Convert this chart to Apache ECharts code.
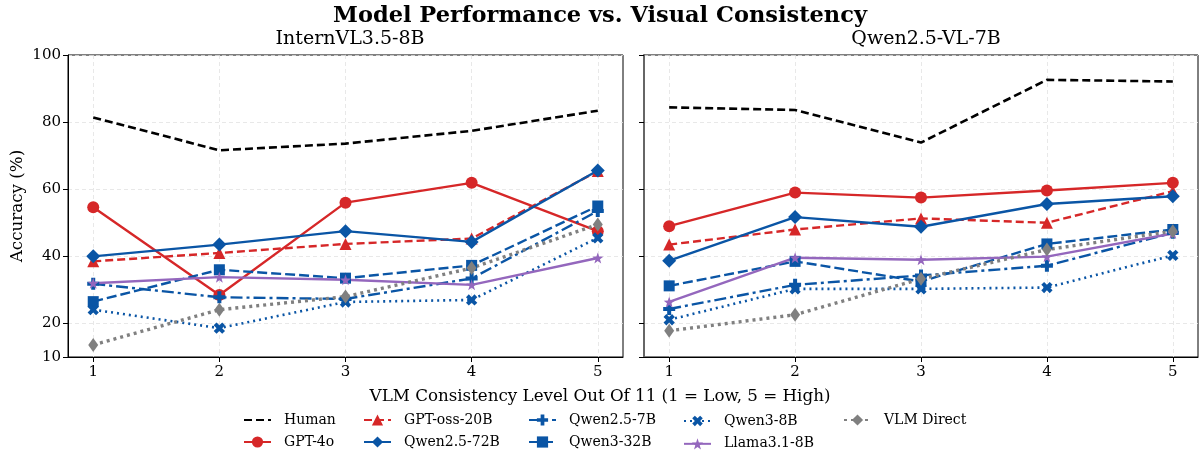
<!DOCTYPE html>
<html>
<head>
<meta charset="utf-8">
<script src="https://cdn.jsdelivr.net/npm/echarts@6/dist/echarts.min.js"></script>
<style>
    html, body { margin: 0; padding: 0; background: #fff; }
    #main { width: 1200px; height: 453px; }
</style>
</head>
<body>
<div id="main"></div>
<script>
    // x positions (consistency levels)
    var levels = [1, 2, 3, 4, 5];
    var yTicks = [10, 20, 40, 60, 80, 100];
    var panels = ['InternVL3.5-8B', 'Qwen2.5-VL-7B'];

    // InternVL3.5-8B panel
    var humanL      = [81.4, 71.6, 73.6, 77.4, 83.4];
    var gpt4oL      = [54.6, 28.5, 56.0, 61.9, 47.5];
    var gptossL     = [38.5, 41.0, 43.7, 45.3, 65.4];
    var qwen72L     = [40.0, 43.5, 47.5, 44.3, 65.6];
    var qwen7L      = [31.8, 27.8, 27.3, 33.4, 53.5];
    var qwen32L     = [26.5, 36.0, 33.5, 37.3, 55.0];
    var qwen8L      = [24.1, 18.6, 26.4, 27.0, 45.5];
    var llamaL      = [32.0, 33.8, 33.0, 31.5, 39.5];
    var vlmL        = [13.6, 24.1, 28.0, 36.5, 49.5];

    // Qwen2.5-VL-7B panel
    var humanR      = [84.4, 83.6, 73.9, 92.6, 92.1];
    var gpt4oR      = [49.0, 59.0, 57.5, 59.6, 61.9];
    var gptossR     = [43.5, 48.0, 51.3, 50.0, 59.4];
    var qwen72R     = [38.7, 51.7, 48.8, 55.6, 57.9];
    var qwen7R      = [24.3, 31.5, 34.3, 37.2, 47.0];
    var qwen32R     = [31.2, 38.5, 32.5, 43.7, 48.0];
    var qwen8R      = [21.1, 30.3, 30.3, 30.7, 40.3];
    var llamaR      = [26.4, 39.6, 39.0, 39.9, 46.8];
    var vlmR        = [17.8, 22.6, 33.3, 42.0, 47.5];

    var FONT = 'DejaVu Serif';
    var RED = '#d62728', BLUE = '#0a55a5', PURPLE = '#9467bd', GRAY = '#808080';
    var plusPath = 'path://M-1,-3H1V-1H3V1H1V3H-1V1H-3V-1H-1Z';
    var starPath = 'path://M0,-10L2.35,-3.24L9.51,-3.09L3.8,1.24L5.88,8.09L0,4L-5.88,8.09L-3.8,1.24L-9.51,-3.09L-2.35,-3.24Z';

    var models = [
        {name: 'Human', L: humanL, R: humanR, color: '#000', type: [8, 4], width: 2.6, symbol: 'none'},
        {name: 'GPT-4o', L: gpt4oL, R: gpt4oR, color: RED, type: 'solid', width: 2.4, symbol: 'circle', size: 12},
        {name: 'GPT-oss-20B', L: gptossL, R: gptossR, color: RED, type: [8, 4], width: 2.4, symbol: 'triangle', size: 12},
        {name: 'Qwen2.5-72B', L: qwen72L, R: qwen72R, color: BLUE, type: 'solid', width: 2.4, symbol: 'diamond', size: 14},
        {name: 'Qwen2.5-7B', L: qwen7L, R: qwen7R, color: BLUE, type: [12, 4, 3, 4], width: 2.4, symbol: plusPath, size: 12},
        {name: 'Qwen3-32B', L: qwen32L, R: qwen32R, color: BLUE, type: [10, 4], width: 2.4, symbol: 'rect', size: 11},
        {name: 'Qwen3-8B', L: qwen8L, R: qwen8R, color: BLUE, type: [2, 4], width: 2.6, symbol: plusPath, size: 12, rotate: 45},
        {name: 'Llama3.1-8B', L: llamaL, R: llamaR, color: PURPLE, type: 'solid', width: 2.4, symbol: starPath, size: 11},
        {name: 'VLM Direct', L: vlmL, R: vlmR, color: GRAY, type: [3, 4], width: 3.4, symbol: 'diamond', size: [10, 14]}
    ];

    function pts(vals) {
        return levels.map(function (x, i) { return [x, vals[i]]; });
    }

    var series = [];
    [0, 1].forEach(function (p) {
        models.forEach(function (m) {
            series.push({
                name: m.name,
                type: 'line',
                xAxisIndex: p,
                yAxisIndex: p,
                data: pts(p === 0 ? m.L : m.R),
                symbol: m.symbol,
                symbolSize: m.size || 10,
                symbolRotate: m.rotate || 0,
                showSymbol: m.symbol !== 'none',
                color: m.color,
                lineStyle: {color: m.color, width: m.width, type: m.type},
                itemStyle: {color: m.color, borderWidth: 0},
                emphasis: {disabled: true},
                animation: false
            });
        });
    });

    function xAx(idx) {
        return {
            type: 'value', gridIndex: idx, min: 0.8, max: 5.2,
            axisLine: {show: true, lineStyle: {color: '#000', width: 1}},
            axisTick: {show: true, length: 5, customValues: levels, lineStyle: {color: '#000'}},
            axisLabel: {customValues: levels, color: '#000', fontFamily: FONT, fontSize: 15, margin: 8},
            splitLine: {show: true, lineStyle: {color: '#e2e2e2', type: [4, 3], width: 0.8}}
        };
    }
    function yAx(idx) {
        return {
            type: 'value', gridIndex: idx, min: 10, max: 100,
            name: idx === 0 ? 'Accuracy (%)' : '',
            nameLocation: 'middle', nameGap: 42,
            nameTextStyle: {fontFamily: FONT, fontSize: 16.7, color: '#000'},
            axisLine: {show: true, lineStyle: idx === 0 ? {color: '#000', width: 1} : {color: '#666', width: 2}},
            axisTick: {show: true, length: 5, customValues: yTicks, lineStyle: {color: '#000'}},
            axisLabel: {show: idx === 0, customValues: yTicks, color: '#000', fontFamily: FONT, fontSize: 15, margin: 7},
            splitLine: {show: true, lineStyle: {color: '#e2e2e2', type: [4, 3], width: 0.8}}
        };
    }

    var legendCols = [
        {x: 243, names: ['Human', 'GPT-4o']},
        {x: 363, names: ['GPT-oss-20B', 'Qwen2.5-72B']},
        {x: 528, names: ['Qwen2.5-7B', 'Qwen3-32B']},
        {x: 683, names: ['Qwen3-8B', 'Llama3.1-8B']},
        {x: 843, names: ['VLM Direct']}
    ];
    var legends = legendCols.map(function (c) {
        return {
            data: c.names.map(function (n) {
                // Human has no marker, only the dashed line
                return n === 'Human' ? {name: n, itemStyle: {opacity: 0}} : n;
            }),
            orient: 'vertical', left: c.x, top: 413, padding: 0,
            itemWidth: 27, itemHeight: 14, itemGap: 8,
            textStyle: {fontFamily: FONT, fontSize: 14, color: '#000', padding: [0, 0, 0, 8]},
            selectedMode: false
        };
    });

    var chart = echarts.init(document.getElementById('main'), null, {renderer: 'canvas'});
    var option = {
        backgroundColor: '#fff',
        animation: false,
        title: [
            {text: 'Model Performance vs. Visual Consistency', left: 'center', top: 0,
                textStyle: {fontFamily: FONT, fontSize: 22.5, fontWeight: 'bold', color: '#000'}},
            {text: panels[0], left: 345, top: 25, textAlign: 'center',
                textStyle: {fontFamily: FONT, fontSize: 19, fontWeight: 'normal', color: '#000'}},
            {text: panels[1], left: 921, top: 25, textAlign: 'center',
                textStyle: {fontFamily: FONT, fontSize: 19, fontWeight: 'normal', color: '#000'}},
            {text: 'VLM Consistency Level Out Of 11 (1 = Low, 5 = High)', left: 'center', top: 383,
                textStyle: {fontFamily: FONT, fontSize: 16.7, fontWeight: 'normal', color: '#000'}}
        ],
        legend: legends,
        grid: [
            {left: 68, top: 55, width: 555, height: 302, show: true, borderColor: '#000', borderWidth: 1},
            {left: 644, top: 55, width: 554, height: 302, show: true, borderColor: '#000', borderWidth: 1}
        ],
        xAxis: [xAx(0), xAx(1)],
        yAxis: [yAx(0), yAx(1)],
        series: series
    };
    option && chart.setOption(option);
</script>
</body>
</html>
